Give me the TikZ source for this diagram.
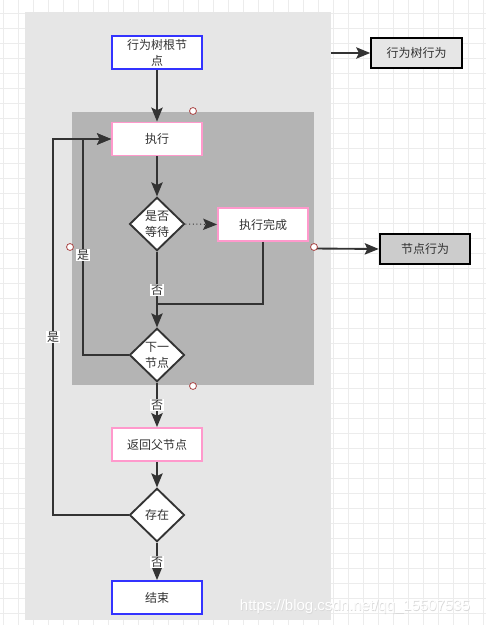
\documentclass[tikz,border=0pt]{standalone}
\usepackage{fontspec}
\setmainfont{Noto Sans CJK SC}
\newfontfamily\wmfont{Liberation Sans}
\usetikzlibrary{shapes.geometric,arrows.meta}
\definecolor{gridc}{RGB}{236,236,236}
\definecolor{outerc}{RGB}{230,230,230}
\definecolor{innerc}{RGB}{180,180,180}
\definecolor{linec}{RGB}{51,51,51}
\definecolor{txtc}{RGB}{51,51,51}
\definecolor{bluec}{RGB}{51,51,255}
\definecolor{pinkc}{RGB}{255,153,204}
\definecolor{dotc}{RGB}{170,70,70}
\definecolor{sideA}{RGB}{230,230,230}
\definecolor{sideB}{RGB}{204,204,204}
\tikzset{
  boxnode/.style={rectangle, fill=white, line width=1.4pt, minimum width=67.5pt, minimum height=24.75pt, inner sep=0pt, text=txtc, align=center},
  bluebox/.style={boxnode, draw=bluec},
  pinkbox/.style={boxnode, draw=pinkc},
  decide/.style={diamond, aspect=1, fill=white, draw=linec, line width=1.4pt, minimum width=41.25pt, minimum height=40pt, inner sep=0pt, text=txtc, align=center},
  sidebox/.style={rectangle, draw=black, line width=1.4pt, minimum width=68pt, minimum height=23pt, inner sep=0pt, text=txtc},
  conn/.style={draw=linec, line width=1.4pt, -{Stealth[length=10.5pt,width=8.5pt,inset=2pt]}},
  plainconn/.style={draw=linec, line width=1.4pt},
  lbl/.style={fill=white, inner sep=0.6pt, text=txtc},
  handle/.style={draw=dotc, fill=white, line width=0.6pt}
}
\begin{document}
\begin{tikzpicture}[x=0.75pt,y=-0.75pt, font=\fontsize{9}{12}\selectfont]
\useasboundingbox (0,0) rectangle (486,625);
\fill[white] (0,0) rectangle (486,625);
% grid
\foreach \gx in {3,18,...,483} \draw[gridc, line width=0.75pt] (\gx,0) -- (\gx,625);
\foreach \gy in {13,28,...,625} \draw[gridc, line width=0.75pt] (0,\gy) -- (486,\gy);
% panels
\node[rectangle, fill=outerc, minimum width=229.5pt, minimum height=456pt, inner sep=0pt] (outer) at (178,316) {};
\node[rectangle, fill=innerc, minimum width=181.5pt, minimum height=204.75pt, inner sep=0pt] (inner) at (193,248.5) {};
% watermark
\node[font=\wmfont\fontsize{11.25}{12}\selectfont, text=gray!30] at (355.6,607.6) {https://blog.csdn.net/qq\_15507535};
\node[font=\wmfont\fontsize{11.25}{12}\selectfont, text=white] (wm) at (355,607) {https://blog.csdn.net/qq\_15507535};
% nodes
\node[bluebox] (root) at (157,52.5) {行为树根节\\点};
\node[pinkbox] (exec) at (157,139) {执行};
\node[decide] (wait) at (157,224) {是否\\等待};
\node[pinkbox] (done) at (263,224.5) {执行完成};
\node[decide] (next) at (157,355) {下一\\节点};
\node[pinkbox] (back) at (157,444.5) {返回父节点};
\node[decide] (exist) at (157,515) {存在};
\node[bluebox] (end) at (157,597.5) {结束};
\node[sidebox, fill=sideA] (treeB) at (416.5,53) {行为树行为};
\node[sidebox, fill=sideB] (nodeB) at (425,249) {节点行为};
\coordinate (merge) at (157,304);
\coordinate (loopA) at (83,139);
\coordinate (loopB) at (53,139);
% connectors
\draw[conn] (root) -- (exec);
\draw[conn] (exec) -- (wait);
\draw[draw=linec, line width=0.75pt, dotted, -{Stealth[length=10.5pt,width=8.5pt,inset=2pt]}] (wait.east) -- (done.west);
\draw[plainconn] (done.south) |- (merge);
\draw[conn] (wait.south) -- (next.north);
\node[lbl] at (157,290) {否};
\draw[conn] (next.west) -| (loopA) -- (exec.west);
\node[lbl] at (83,255) {是};
\draw[conn] (next.south) -- (back.north);
\node[lbl] at (157,405) {否};
\draw[conn] (back) -- (exist);
\draw[conn] (exist.west) -| (loopB) -- (exec.west);
\node[lbl] at (53,337) {是};
\draw[conn] (exist.south) -- (end.north);
\node[lbl] at (157,562) {否};
\draw[conn] (treeB.west -| outer.east) -- (treeB.west);
\draw[conn] (inner.east) -- (nodeB.west);
% connection handles
\foreach \hx/\hy in {193/111, 70/247, 314/247, 193/386}
  \draw[handle] (\hx,\hy) circle[radius=2.6pt];
\end{tikzpicture}
\end{document}
